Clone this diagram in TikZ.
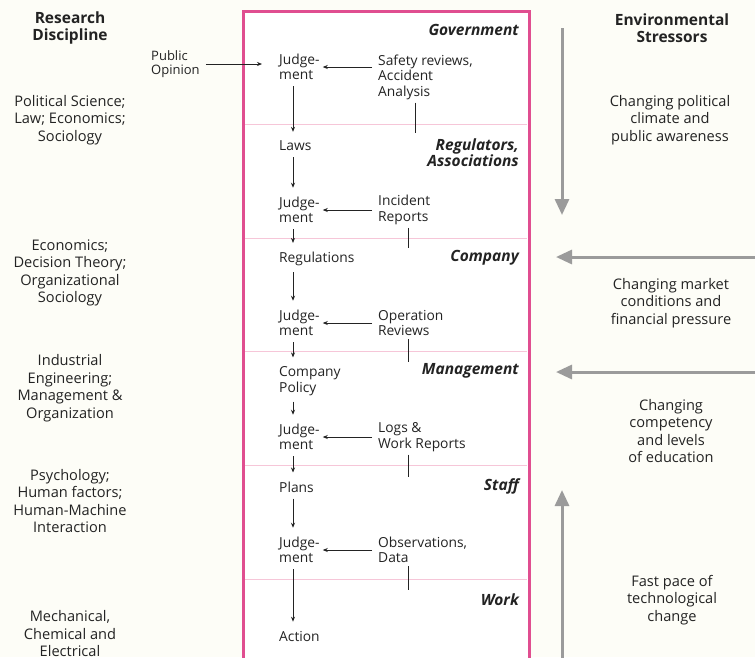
\documentclass[tikz,border=0pt]{standalone}
\usepackage{fontspec}
\setmainfont{Open Sans}
\usepackage{xcolor}
\usepackage{tikz}
\usetikzlibrary{arrows.meta}

\definecolor{sheet}{RGB}{253,253,247}
\definecolor{layerpink}{RGB}{224,78,144}
\definecolor{seppink}{RGB}{246,198,216}
\definecolor{stressgray}{RGB}{155,155,155}
\definecolor{ink}{RGB}{35,35,35}

\tikzset{
  lvtext/.style={font=\fontsize{13.8}{15.5}\selectfont, text=ink, align=left, anchor=west, inner sep=0pt},
  sidetext/.style={font=\fontsize{14.6}{17.5}\selectfont, text=ink, align=center, inner sep=0pt},
  headtext/.style={sidetext, font=\fontsize{15.5}{17}\selectfont\bfseries},
  layertitle/.style={font=\fontsize{15.5}{16}\selectfont\bfseries\itshape, text=ink, align=right, anchor=east, inner sep=0pt},
  flow/.style={-{Stealth[length=5pt,width=4pt]}, line width=0.7pt, ink},
  stress/.style={-{Triangle[length=16pt,width=14pt]}, line width=3pt, stressgray},
}

\begin{document}
\begin{tikzpicture}[x=1pt, y=-1pt]
    \fill[sheet] (0,0) rectangle (755,657);
    \clip (0,0) rectangle (755,657);

    % column heads
    \node[headtext] (rd) at (70,28) {Research\\Discipline};
    \node[headtext] (es) at (672,28) {Environmental\\Stressors};

    % layers of the system
    \draw[layerpink, line width=3pt, fill=white] (243,11) rectangle (529,700);
    \foreach \y in {124,238,351,465,579} \draw[seppink, line width=0.8pt] (245,\y) -- (527,\y);
    \foreach \y/\name [count=\i] in {30/Government, 153/{Regulators,\\Associations}, 258/Company, 371/Management, 486/Staff, 600/Work}
        \node[layertitle] (layer\i) at (519,\y) {\name};

    % decision chain
    \node[lvtext] (j1) at (279,67) {Judge-\\ment};
    \node[lvtext] (laws) at (279,146) {Laws};
    \node[lvtext] (j2) at (279,210) {Judge-\\ment};
    \node[lvtext] (regs) at (279,259) {Regulations};
    \node[lvtext] (j3) at (279,323) {Judge-\\ment};
    \node[lvtext] (cpol) at (279,381) {Company\\Policy};
    \node[lvtext] (j4) at (279,437) {Judge-\\ment};
    \node[lvtext] (plans) at (279,487) {Plans};
    \node[lvtext] (j5) at (279,550) {Judge-\\ment};
    \node[lvtext] (act) at (279,636) {Action};
    \foreach \a/\b in {j1/laws, laws/j2, j2/regs, regs/j3, j3/cpol, cpol/j4, j4/plans, plans/j5, j5/act}
        \draw[flow, shorten <=6pt, shorten >=9pt] ([xshift=14pt]\a.south west) -- ([xshift=14pt]\b.north west);

    % reports feeding the judgements
    \node[lvtext] (sr) at (378,77) {Safety reviews,\\Accident\\Analysis};
    \node[lvtext] (ir) at (378,210) {Incident\\Reports};
    \node[lvtext] (orv) at (378,323) {Operation\\Reviews};
    \node[lvtext] (lw) at (378,437) {Logs \&\\Work Reports};
    \node[lvtext] (ob) at (378,550) {Observations,\\Data};
    \foreach \r/\j in {sr/j1, ir/j2, orv/j3, lw/j4, ob/j5}
        \draw[flow, shorten <=6pt, shorten >=3pt] (\r.west |- \j.east) -- (\j.east);
    \foreach \r/\x/\y in {sr/415/133, ir/408/248, orv/408/362, lw/408/477, ob/408/590} {
        \coordinate (\r-foot) at (\x,\y);
        \draw[line width=0.7pt, ink, shorten <=3pt] (\r.south -| \r-foot) -- (\r-foot);
    }

    \node[lvtext, font=\fontsize{13}{14}\selectfont] (po) at (151,64) {Public\\Opinion};
    \draw[flow, shorten <=6pt, shorten >=17pt] (po.east) -- (po.east -| j1.west);

    % research disciplines
    \node[sidetext] (d1) at (70,120) {Political Science;\\Law; Economics;\\Sociology};
    \node[sidetext] (d2) at (70,273) {Economics;\\Decision Theory;\\Organizational\\Sociology};
    \node[sidetext] (d3) at (70,388) {Industrial\\Engineering;\\Management \&\\Organization};
    \node[sidetext] (d4) at (70,501) {Psychology;\\Human factors;\\Human-Machine\\Interaction};
    \node[sidetext] (d5) at (70,634) {Mechanical,\\Chemical and\\Electrical};

    % environmental stressors
    \node[sidetext] (s1) at (670,120) {Changing political\\climate and\\public awareness};
    \node[sidetext] (s2) at (671,303) {Changing market\\conditions and\\financial pressure};
    \node[sidetext] (s3) at (671,431) {Changing\\competency\\and levels\\of education};
    \node[sidetext] (s4) at (672,600) {Fast pace of\\technological\\change};

    \coordinate (p1a) at (562,28);  \coordinate (p1b) at (562,215);
    \coordinate (p2a) at (760,257); \coordinate (p2b) at (556,257);
    \coordinate (p3a) at (760,372); \coordinate (p3b) at (556,372);
    \coordinate (p4a) at (562,662); \coordinate (p4b) at (562,490);
    \foreach \p in {p1, p2, p3, p4} \draw[stress] (\p a) -- (\p b);
\end{tikzpicture}
\end{document}
